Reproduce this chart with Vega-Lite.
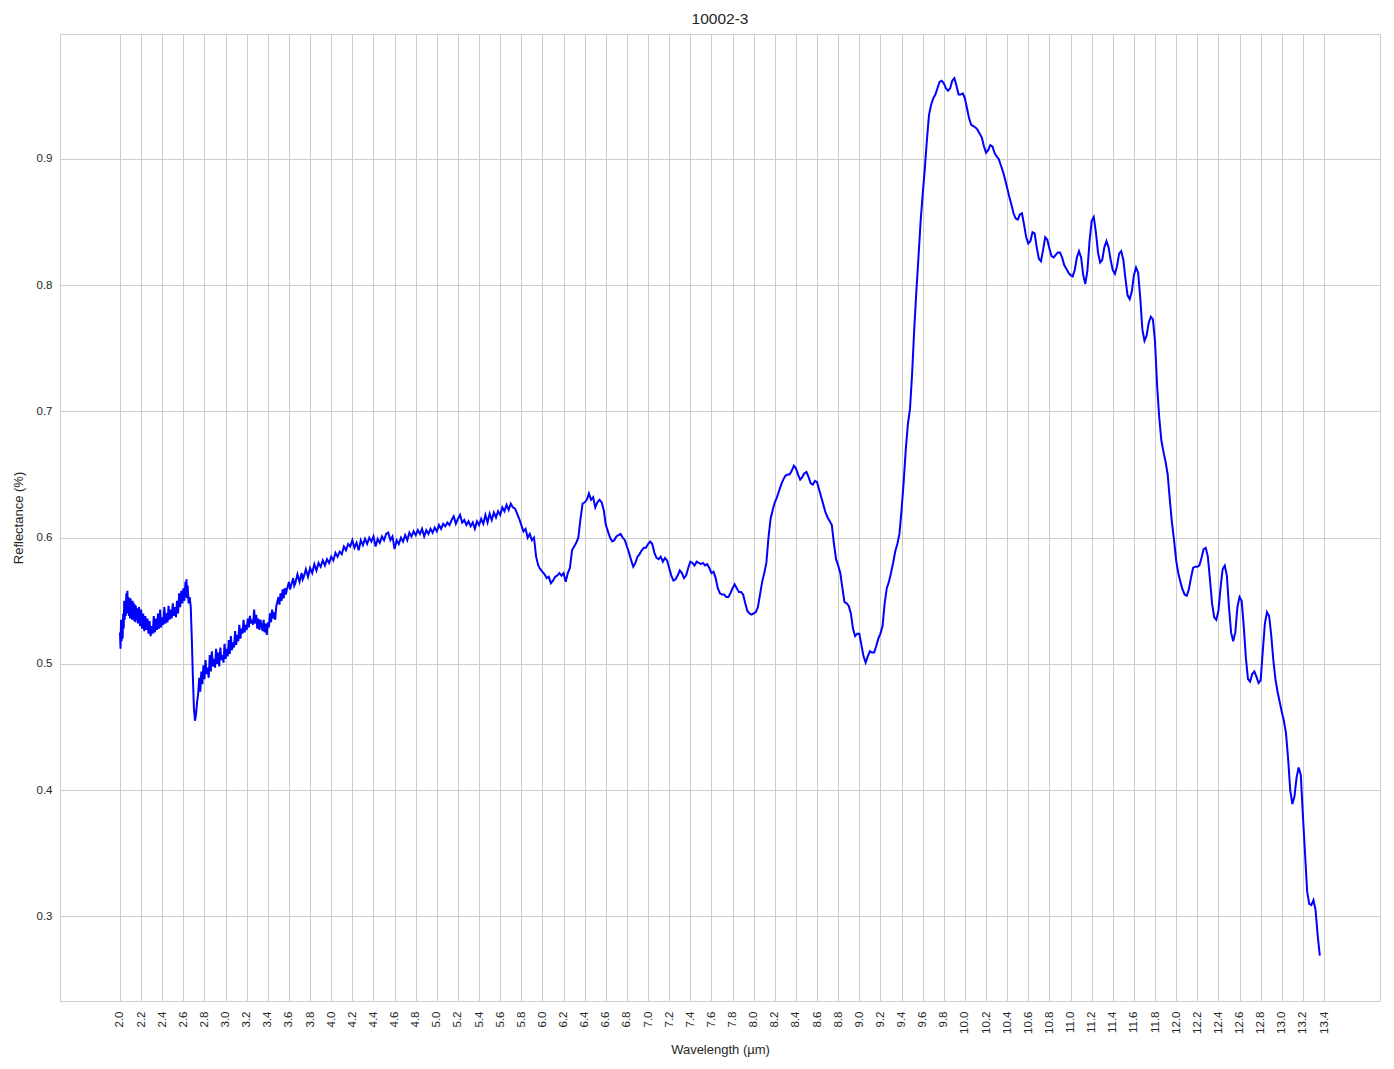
{
  "$schema": "https://vega.github.io/schema/vega-lite/v6.json",
  "autosize": "none",
  "width": 1320,
  "height": 967,
  "padding": {"left": 60, "top": 34, "right": 14, "bottom": 68},
  "background": "white",
  "title": {"text": "10002-3", "font": "Liberation Sans", "fontSize": 15.5, "fontWeight": "normal", "color": "#262626", "offset": 7},
  "config": {
    "view": {"stroke": "#cccccc", "strokeWidth": 1},
    "axis": {"labelFont": "Liberation Sans", "titleFont": "Liberation Sans", "labelColor": "#262626", "titleColor": "#262626", "labelFontSize": 11.5, "titleFontSize": 13, "titleFontWeight": "normal", "gridColor": "#cccccc", "gridWidth": 1, "gridOpacity": 1, "domain": false, "ticks": false}
  },
  "data": {"values": [
{"w":2.00,"r":0.525},{"w":2.005,"r":0.512},{"w":2.01,"r":0.535},{"w":2.015,"r":0.518},{"w":2.02,"r":0.53},{"w":2.025,"r":0.52},{"w":2.03,"r":0.54},{"w":2.035,"r":0.528},{"w":2.04,"r":0.55},{"w":2.045,"r":0.535},{"w":2.05,"r":0.548},{"w":2.055,"r":0.538},{"w":2.06,"r":0.556},{"w":2.065,"r":0.54},{"w":2.07,"r":0.558},{"w":2.075,"r":0.543},{"w":2.08,"r":0.553},{"w":2.085,"r":0.538},{"w":2.09,"r":0.55},{"w":2.095,"r":0.536},{"w":2.10,"r":0.552},{"w":2.105,"r":0.54},{"w":2.11,"r":0.549},{"w":2.115,"r":0.535},{"w":2.12,"r":0.55},{"w":2.125,"r":0.537},{"w":2.13,"r":0.548},{"w":2.135,"r":0.534},{"w":2.14,"r":0.547},{"w":2.145,"r":0.533},{"w":2.15,"r":0.546},{"w":2.155,"r":0.535},{"w":2.16,"r":0.544},{"w":2.17,"r":0.532},{"w":2.18,"r":0.545},{"w":2.19,"r":0.53},{"w":2.20,"r":0.543},{"w":2.21,"r":0.528},{"w":2.22,"r":0.54},{"w":2.23,"r":0.526},{"w":2.24,"r":0.538},{"w":2.25,"r":0.527},{"w":2.26,"r":0.536},{"w":2.27,"r":0.524},{"w":2.28,"r":0.534},{"w":2.29,"r":0.522},{"w":2.30,"r":0.53},{"w":2.31,"r":0.524},{"w":2.32,"r":0.538},{"w":2.33,"r":0.525},{"w":2.34,"r":0.536},{"w":2.35,"r":0.527},{"w":2.36,"r":0.54},{"w":2.37,"r":0.528},{"w":2.38,"r":0.543},{"w":2.39,"r":0.529},{"w":2.40,"r":0.537},{"w":2.41,"r":0.531},{"w":2.42,"r":0.545},{"w":2.43,"r":0.532},{"w":2.44,"r":0.54},{"w":2.45,"r":0.533},{"w":2.46,"r":0.546},{"w":2.47,"r":0.535},{"w":2.48,"r":0.543},{"w":2.49,"r":0.536},{"w":2.50,"r":0.548},{"w":2.51,"r":0.538},{"w":2.52,"r":0.545},{"w":2.53,"r":0.537},{"w":2.54,"r":0.55},{"w":2.55,"r":0.54},{"w":2.56,"r":0.556},{"w":2.57,"r":0.545},{"w":2.58,"r":0.558},{"w":2.59,"r":0.548},{"w":2.60,"r":0.56},{"w":2.61,"r":0.55},{"w":2.62,"r":0.565},{"w":2.625,"r":0.553},{"w":2.63,"r":0.567},{"w":2.635,"r":0.552},{"w":2.64,"r":0.562},{"w":2.65,"r":0.548},{"w":2.66,"r":0.553},{"w":2.67,"r":0.545},{"w":2.68,"r":0.52},{"w":2.69,"r":0.49},{"w":2.70,"r":0.465},{"w":2.71,"r":0.455},{"w":2.72,"r":0.46},{"w":2.73,"r":0.47},{"w":2.74,"r":0.476},{"w":2.75,"r":0.489},{"w":2.76,"r":0.478},{"w":2.77,"r":0.494},{"w":2.78,"r":0.484},{"w":2.79,"r":0.499},{"w":2.80,"r":0.488},{"w":2.81,"r":0.503},{"w":2.82,"r":0.492},{"w":2.83,"r":0.497},{"w":2.84,"r":0.489},{"w":2.85,"r":0.507},{"w":2.86,"r":0.494},{"w":2.87,"r":0.51},{"w":2.88,"r":0.498},{"w":2.89,"r":0.504},{"w":2.90,"r":0.497},{"w":2.91,"r":0.512},{"w":2.92,"r":0.5},{"w":2.93,"r":0.509},{"w":2.94,"r":0.498},{"w":2.95,"r":0.513},{"w":2.96,"r":0.503},{"w":2.97,"r":0.507},{"w":2.98,"r":0.501},{"w":2.99,"r":0.516},{"w":3.00,"r":0.504},{"w":3.01,"r":0.512},{"w":3.02,"r":0.506},{"w":3.03,"r":0.519},{"w":3.04,"r":0.508},{"w":3.05,"r":0.522},{"w":3.06,"r":0.511},{"w":3.07,"r":0.517},{"w":3.08,"r":0.513},{"w":3.09,"r":0.526},{"w":3.10,"r":0.515},{"w":3.11,"r":0.523},{"w":3.12,"r":0.518},{"w":3.13,"r":0.531},{"w":3.14,"r":0.52},{"w":3.15,"r":0.528},{"w":3.16,"r":0.524},{"w":3.17,"r":0.535},{"w":3.18,"r":0.525},{"w":3.19,"r":0.531},{"w":3.20,"r":0.527},{"w":3.21,"r":0.536},{"w":3.22,"r":0.529},{"w":3.23,"r":0.538},{"w":3.24,"r":0.532},{"w":3.25,"r":0.535},{"w":3.26,"r":0.531},{"w":3.27,"r":0.543},{"w":3.28,"r":0.532},{"w":3.29,"r":0.539},{"w":3.30,"r":0.528},{"w":3.31,"r":0.536},{"w":3.32,"r":0.527},{"w":3.33,"r":0.535},{"w":3.34,"r":0.53},{"w":3.35,"r":0.526},{"w":3.36,"r":0.535},{"w":3.37,"r":0.525},{"w":3.38,"r":0.532},{"w":3.39,"r":0.523},{"w":3.40,"r":0.533},{"w":3.41,"r":0.529},{"w":3.42,"r":0.54},{"w":3.43,"r":0.533},{"w":3.44,"r":0.543},{"w":3.45,"r":0.536},{"w":3.46,"r":0.541},{"w":3.47,"r":0.535},{"w":3.48,"r":0.546},{"w":3.49,"r":0.549},{"w":3.50,"r":0.553},{"w":3.51,"r":0.547},{"w":3.52,"r":0.556},{"w":3.53,"r":0.55},{"w":3.54,"r":0.559},{"w":3.55,"r":0.552},{"w":3.56,"r":0.56},{"w":3.57,"r":0.555},{"w":3.58,"r":0.559},{"w":3.60,"r":0.565},{"w":3.61,"r":0.559},{"w":3.62,"r":0.562},{"w":3.64,"r":0.568},{"w":3.65,"r":0.562},{"w":3.66,"r":0.564},{"w":3.68,"r":0.571},{"w":3.70,"r":0.565},{"w":3.72,"r":0.572},{"w":3.73,"r":0.567},{"w":3.74,"r":0.569},{"w":3.76,"r":0.575},{"w":3.78,"r":0.569},{"w":3.80,"r":0.576},{"w":3.82,"r":0.572},{"w":3.84,"r":0.579},{"w":3.86,"r":0.574},{"w":3.88,"r":0.58},{"w":3.90,"r":0.577},{"w":3.92,"r":0.582},{"w":3.94,"r":0.578},{"w":3.96,"r":0.583},{"w":3.98,"r":0.58},{"w":4.00,"r":0.585},{"w":4.02,"r":0.582},{"w":4.04,"r":0.588},{"w":4.06,"r":0.585},{"w":4.08,"r":0.589},{"w":4.10,"r":0.587},{"w":4.12,"r":0.593},{"w":4.14,"r":0.59},{"w":4.16,"r":0.595},{"w":4.18,"r":0.593},{"w":4.20,"r":0.598},{"w":4.22,"r":0.592},{"w":4.24,"r":0.596},{"w":4.26,"r":0.59},{"w":4.28,"r":0.598},{"w":4.30,"r":0.594},{"w":4.32,"r":0.599},{"w":4.34,"r":0.595},{"w":4.36,"r":0.6},{"w":4.38,"r":0.597},{"w":4.40,"r":0.601},{"w":4.42,"r":0.593},{"w":4.44,"r":0.599},{"w":4.46,"r":0.596},{"w":4.48,"r":0.601},{"w":4.50,"r":0.598},{"w":4.52,"r":0.603},{"w":4.54,"r":0.604},{"w":4.56,"r":0.598},{"w":4.58,"r":0.601},{"w":4.60,"r":0.591},{"w":4.62,"r":0.598},{"w":4.64,"r":0.595},{"w":4.66,"r":0.6},{"w":4.68,"r":0.597},{"w":4.70,"r":0.602},{"w":4.72,"r":0.598},{"w":4.74,"r":0.604},{"w":4.76,"r":0.601},{"w":4.78,"r":0.605},{"w":4.80,"r":0.602},{"w":4.82,"r":0.606},{"w":4.84,"r":0.603},{"w":4.86,"r":0.607},{"w":4.88,"r":0.601},{"w":4.90,"r":0.606},{"w":4.92,"r":0.603},{"w":4.94,"r":0.607},{"w":4.96,"r":0.604},{"w":4.98,"r":0.608},{"w":5.00,"r":0.605},{"w":5.02,"r":0.61},{"w":5.04,"r":0.607},{"w":5.06,"r":0.611},{"w":5.08,"r":0.609},{"w":5.10,"r":0.612},{"w":5.12,"r":0.61},{"w":5.14,"r":0.614},{"w":5.16,"r":0.617},{"w":5.18,"r":0.611},{"w":5.20,"r":0.615},{"w":5.22,"r":0.618},{"w":5.24,"r":0.612},{"w":5.26,"r":0.614},{"w":5.28,"r":0.61},{"w":5.30,"r":0.613},{"w":5.32,"r":0.609},{"w":5.34,"r":0.612},{"w":5.36,"r":0.607},{"w":5.38,"r":0.613},{"w":5.40,"r":0.61},{"w":5.42,"r":0.615},{"w":5.44,"r":0.611},{"w":5.46,"r":0.618},{"w":5.48,"r":0.612},{"w":5.50,"r":0.619},{"w":5.52,"r":0.614},{"w":5.54,"r":0.62},{"w":5.56,"r":0.616},{"w":5.58,"r":0.621},{"w":5.60,"r":0.618},{"w":5.62,"r":0.624},{"w":5.64,"r":0.621},{"w":5.66,"r":0.626},{"w":5.68,"r":0.622},{"w":5.70,"r":0.627},{"w":5.72,"r":0.624},{"w":5.74,"r":0.623},{"w":5.76,"r":0.619},{"w":5.78,"r":0.615},{"w":5.80,"r":0.61},{"w":5.82,"r":0.605},{"w":5.84,"r":0.607},{"w":5.86,"r":0.6},{"w":5.88,"r":0.603},{"w":5.90,"r":0.598},{"w":5.92,"r":0.6},{"w":5.94,"r":0.585},{"w":5.96,"r":0.578},{"w":5.98,"r":0.575},{"w":6.00,"r":0.573},{"w":6.02,"r":0.571},{"w":6.04,"r":0.568},{"w":6.06,"r":0.569},{"w":6.08,"r":0.564},{"w":6.10,"r":0.566},{"w":6.12,"r":0.569},{"w":6.14,"r":0.57},{"w":6.16,"r":0.572},{"w":6.18,"r":0.57},{"w":6.20,"r":0.572},{"w":6.22,"r":0.565},{"w":6.24,"r":0.572},{"w":6.26,"r":0.576},{"w":6.28,"r":0.59},{"w":6.30,"r":0.593},{"w":6.32,"r":0.596},{"w":6.34,"r":0.6},{"w":6.36,"r":0.615},{"w":6.38,"r":0.627},{"w":6.40,"r":0.628},{"w":6.42,"r":0.63},{"w":6.44,"r":0.635},{"w":6.46,"r":0.63},{"w":6.48,"r":0.632},{"w":6.50,"r":0.624},{"w":6.52,"r":0.628},{"w":6.54,"r":0.63},{"w":6.56,"r":0.628},{"w":6.58,"r":0.622},{"w":6.60,"r":0.61},{"w":6.62,"r":0.605},{"w":6.64,"r":0.6},{"w":6.66,"r":0.597},{"w":6.68,"r":0.598},{"w":6.70,"r":0.601},{"w":6.72,"r":0.602},{"w":6.74,"r":0.603},{"w":6.76,"r":0.6},{"w":6.78,"r":0.598},{"w":6.80,"r":0.593},{"w":6.82,"r":0.588},{"w":6.84,"r":0.582},{"w":6.86,"r":0.577},{"w":6.88,"r":0.58},{"w":6.90,"r":0.585},{"w":6.92,"r":0.587},{"w":6.94,"r":0.59},{"w":6.96,"r":0.592},{"w":6.98,"r":0.592},{"w":7.00,"r":0.595},{"w":7.02,"r":0.597},{"w":7.04,"r":0.595},{"w":7.06,"r":0.588},{"w":7.08,"r":0.584},{"w":7.10,"r":0.583},{"w":7.12,"r":0.585},{"w":7.14,"r":0.581},{"w":7.16,"r":0.584},{"w":7.18,"r":0.582},{"w":7.20,"r":0.576},{"w":7.22,"r":0.57},{"w":7.24,"r":0.566},{"w":7.26,"r":0.567},{"w":7.28,"r":0.57},{"w":7.30,"r":0.574},{"w":7.32,"r":0.572},{"w":7.34,"r":0.568},{"w":7.36,"r":0.57},{"w":7.38,"r":0.576},{"w":7.40,"r":0.581},{"w":7.42,"r":0.58},{"w":7.44,"r":0.578},{"w":7.46,"r":0.581},{"w":7.48,"r":0.58},{"w":7.50,"r":0.579},{"w":7.52,"r":0.58},{"w":7.54,"r":0.578},{"w":7.56,"r":0.579},{"w":7.58,"r":0.576},{"w":7.60,"r":0.572},{"w":7.62,"r":0.573},{"w":7.64,"r":0.568},{"w":7.66,"r":0.56},{"w":7.68,"r":0.556},{"w":7.70,"r":0.555},{"w":7.72,"r":0.555},{"w":7.74,"r":0.553},{"w":7.76,"r":0.553},{"w":7.78,"r":0.556},{"w":7.80,"r":0.56},{"w":7.82,"r":0.563},{"w":7.84,"r":0.56},{"w":7.86,"r":0.557},{"w":7.88,"r":0.557},{"w":7.90,"r":0.555},{"w":7.92,"r":0.548},{"w":7.94,"r":0.542},{"w":7.96,"r":0.54},{"w":7.98,"r":0.539},{"w":8.00,"r":0.54},{"w":8.02,"r":0.541},{"w":8.04,"r":0.545},{"w":8.06,"r":0.555},{"w":8.08,"r":0.565},{"w":8.10,"r":0.572},{"w":8.12,"r":0.58},{"w":8.14,"r":0.6},{"w":8.16,"r":0.615},{"w":8.18,"r":0.622},{"w":8.20,"r":0.628},{"w":8.22,"r":0.632},{"w":8.24,"r":0.637},{"w":8.26,"r":0.642},{"w":8.28,"r":0.646},{"w":8.30,"r":0.649},{"w":8.32,"r":0.65},{"w":8.34,"r":0.65},{"w":8.36,"r":0.653},{"w":8.38,"r":0.657},{"w":8.40,"r":0.655},{"w":8.42,"r":0.65},{"w":8.44,"r":0.646},{"w":8.46,"r":0.648},{"w":8.48,"r":0.651},{"w":8.50,"r":0.652},{"w":8.52,"r":0.648},{"w":8.54,"r":0.643},{"w":8.56,"r":0.642},{"w":8.58,"r":0.645},{"w":8.60,"r":0.644},{"w":8.62,"r":0.638},{"w":8.64,"r":0.632},{"w":8.66,"r":0.626},{"w":8.68,"r":0.62},{"w":8.70,"r":0.616},{"w":8.72,"r":0.613},{"w":8.74,"r":0.61},{"w":8.76,"r":0.595},{"w":8.78,"r":0.583},{"w":8.80,"r":0.578},{"w":8.82,"r":0.572},{"w":8.84,"r":0.56},{"w":8.86,"r":0.549},{"w":8.88,"r":0.548},{"w":8.90,"r":0.546},{"w":8.92,"r":0.54},{"w":8.94,"r":0.528},{"w":8.96,"r":0.522},{"w":8.98,"r":0.524},{"w":9.00,"r":0.524},{"w":9.02,"r":0.515},{"w":9.04,"r":0.506},{"w":9.06,"r":0.501},{"w":9.08,"r":0.506},{"w":9.10,"r":0.51},{"w":9.12,"r":0.509},{"w":9.14,"r":0.509},{"w":9.16,"r":0.514},{"w":9.18,"r":0.52},{"w":9.20,"r":0.524},{"w":9.22,"r":0.53},{"w":9.24,"r":0.548},{"w":9.26,"r":0.56},{"w":9.28,"r":0.565},{"w":9.30,"r":0.572},{"w":9.32,"r":0.58},{"w":9.34,"r":0.589},{"w":9.36,"r":0.595},{"w":9.38,"r":0.603},{"w":9.40,"r":0.622},{"w":9.42,"r":0.644},{"w":9.44,"r":0.67},{"w":9.46,"r":0.69},{"w":9.48,"r":0.702},{"w":9.50,"r":0.73},{"w":9.52,"r":0.765},{"w":9.54,"r":0.795},{"w":9.56,"r":0.822},{"w":9.58,"r":0.85},{"w":9.60,"r":0.872},{"w":9.62,"r":0.892},{"w":9.64,"r":0.915},{"w":9.66,"r":0.935},{"w":9.68,"r":0.943},{"w":9.70,"r":0.948},{"w":9.72,"r":0.951},{"w":9.74,"r":0.956},{"w":9.76,"r":0.961},{"w":9.78,"r":0.962},{"w":9.80,"r":0.96},{"w":9.82,"r":0.956},{"w":9.84,"r":0.954},{"w":9.86,"r":0.956},{"w":9.88,"r":0.962},{"w":9.90,"r":0.964},{"w":9.92,"r":0.958},{"w":9.94,"r":0.951},{"w":9.96,"r":0.951},{"w":9.98,"r":0.952},{"w":10.00,"r":0.948},{"w":10.02,"r":0.94},{"w":10.04,"r":0.932},{"w":10.06,"r":0.927},{"w":10.08,"r":0.926},{"w":10.10,"r":0.925},{"w":10.12,"r":0.923},{"w":10.14,"r":0.92},{"w":10.16,"r":0.917},{"w":10.18,"r":0.91},{"w":10.20,"r":0.905},{"w":10.22,"r":0.907},{"w":10.24,"r":0.911},{"w":10.26,"r":0.91},{"w":10.28,"r":0.905},{"w":10.30,"r":0.902},{"w":10.32,"r":0.9},{"w":10.34,"r":0.895},{"w":10.36,"r":0.89},{"w":10.38,"r":0.884},{"w":10.40,"r":0.877},{"w":10.42,"r":0.87},{"w":10.44,"r":0.864},{"w":10.46,"r":0.857},{"w":10.48,"r":0.853},{"w":10.50,"r":0.852},{"w":10.52,"r":0.856},{"w":10.54,"r":0.857},{"w":10.56,"r":0.848},{"w":10.58,"r":0.838},{"w":10.60,"r":0.833},{"w":10.62,"r":0.835},{"w":10.64,"r":0.842},{"w":10.66,"r":0.841},{"w":10.68,"r":0.83},{"w":10.70,"r":0.821},{"w":10.72,"r":0.819},{"w":10.74,"r":0.828},{"w":10.76,"r":0.838},{"w":10.78,"r":0.836},{"w":10.80,"r":0.829},{"w":10.82,"r":0.823},{"w":10.84,"r":0.822},{"w":10.86,"r":0.824},{"w":10.88,"r":0.826},{"w":10.90,"r":0.826},{"w":10.92,"r":0.822},{"w":10.94,"r":0.816},{"w":10.96,"r":0.813},{"w":10.98,"r":0.81},{"w":11.00,"r":0.808},{"w":11.02,"r":0.807},{"w":11.04,"r":0.812},{"w":11.06,"r":0.822},{"w":11.08,"r":0.827},{"w":11.10,"r":0.822},{"w":11.12,"r":0.808},{"w":11.14,"r":0.801},{"w":11.16,"r":0.812},{"w":11.18,"r":0.835},{"w":11.20,"r":0.851},{"w":11.22,"r":0.854},{"w":11.24,"r":0.842},{"w":11.26,"r":0.826},{"w":11.28,"r":0.818},{"w":11.30,"r":0.82},{"w":11.32,"r":0.83},{"w":11.34,"r":0.835},{"w":11.36,"r":0.83},{"w":11.38,"r":0.82},{"w":11.40,"r":0.812},{"w":11.42,"r":0.809},{"w":11.44,"r":0.815},{"w":11.46,"r":0.825},{"w":11.48,"r":0.827},{"w":11.50,"r":0.82},{"w":11.52,"r":0.805},{"w":11.54,"r":0.792},{"w":11.56,"r":0.789},{"w":11.58,"r":0.795},{"w":11.60,"r":0.808},{"w":11.62,"r":0.814},{"w":11.64,"r":0.81},{"w":11.66,"r":0.79},{"w":11.68,"r":0.765},{"w":11.70,"r":0.756},{"w":11.72,"r":0.76},{"w":11.74,"r":0.77},{"w":11.76,"r":0.775},{"w":11.78,"r":0.773},{"w":11.80,"r":0.755},{"w":11.82,"r":0.72},{"w":11.84,"r":0.695},{"w":11.86,"r":0.677},{"w":11.88,"r":0.668},{"w":11.90,"r":0.66},{"w":11.92,"r":0.65},{"w":11.94,"r":0.63},{"w":11.96,"r":0.612},{"w":11.98,"r":0.598},{"w":12.00,"r":0.582},{"w":12.02,"r":0.572},{"w":12.04,"r":0.565},{"w":12.06,"r":0.559},{"w":12.08,"r":0.555},{"w":12.10,"r":0.554},{"w":12.12,"r":0.559},{"w":12.14,"r":0.568},{"w":12.16,"r":0.576},{"w":12.18,"r":0.577},{"w":12.20,"r":0.577},{"w":12.22,"r":0.578},{"w":12.24,"r":0.584},{"w":12.26,"r":0.591},{"w":12.28,"r":0.592},{"w":12.30,"r":0.585},{"w":12.32,"r":0.567},{"w":12.34,"r":0.548},{"w":12.36,"r":0.537},{"w":12.38,"r":0.535},{"w":12.40,"r":0.542},{"w":12.42,"r":0.56},{"w":12.44,"r":0.575},{"w":12.46,"r":0.578},{"w":12.48,"r":0.57},{"w":12.50,"r":0.545},{"w":12.52,"r":0.525},{"w":12.54,"r":0.518},{"w":12.56,"r":0.525},{"w":12.58,"r":0.545},{"w":12.60,"r":0.553},{"w":12.62,"r":0.55},{"w":12.64,"r":0.53},{"w":12.66,"r":0.505},{"w":12.68,"r":0.488},{"w":12.70,"r":0.486},{"w":12.72,"r":0.492},{"w":12.74,"r":0.494},{"w":12.76,"r":0.49},{"w":12.78,"r":0.485},{"w":12.80,"r":0.487},{"w":12.82,"r":0.51},{"w":12.84,"r":0.532},{"w":12.86,"r":0.541},{"w":12.88,"r":0.538},{"w":12.90,"r":0.523},{"w":12.92,"r":0.503},{"w":12.94,"r":0.488},{"w":12.96,"r":0.478},{"w":12.98,"r":0.47},{"w":13.00,"r":0.462},{"w":13.02,"r":0.455},{"w":13.04,"r":0.445},{"w":13.06,"r":0.425},{"w":13.08,"r":0.4},{"w":13.10,"r":0.389},{"w":13.12,"r":0.395},{"w":13.14,"r":0.41},{"w":13.16,"r":0.418},{"w":13.18,"r":0.412},{"w":13.20,"r":0.38},{"w":13.22,"r":0.35},{"w":13.24,"r":0.32},{"w":13.26,"r":0.31},{"w":13.28,"r":0.309},{"w":13.30,"r":0.313},{"w":13.32,"r":0.305},{"w":13.34,"r":0.285},{"w":13.36,"r":0.269}
  ]},
  "mark": {"type": "line", "color": "#0000ff", "strokeWidth": 2, "clip": true},
  "encoding": {
    "x": {"field": "w", "type": "quantitative", "title": "Wavelength (µm)",
      "scale": {"domain": [1.432, 13.93], "nice": false, "zero": false},
      "axis": {"values": [2.0,2.2,2.4,2.6,2.8,3.0,3.2,3.4,3.6,3.8,4.0,4.2,4.4,4.6,4.8,5.0,5.2,5.4,5.6,5.8,6.0,6.2,6.4,6.6,6.8,7.0,7.2,7.4,7.6,7.8,8.0,8.2,8.4,8.6,8.8,9.0,9.2,9.4,9.6,9.8,10.0,10.2,10.4,10.6,10.8,11.0,11.2,11.4,11.6,11.8,12.0,12.2,12.4,12.6,12.8,13.0,13.2,13.4], "format": ".1f", "labelAngle": 270, "labelPadding": 10, "titlePadding": 10, "labelOverlap": false, "labelFlush": false}},
    "y": {"field": "r", "type": "quantitative", "title": "Reflectance (%)",
      "scale": {"domain": [0.233, 0.999], "nice": false, "zero": false},
      "axis": {"values": [0.3,0.4,0.5,0.6,0.7,0.8,0.9], "format": ".1f", "labelPadding": 8, "titlePadding": 11}}
  }
}
